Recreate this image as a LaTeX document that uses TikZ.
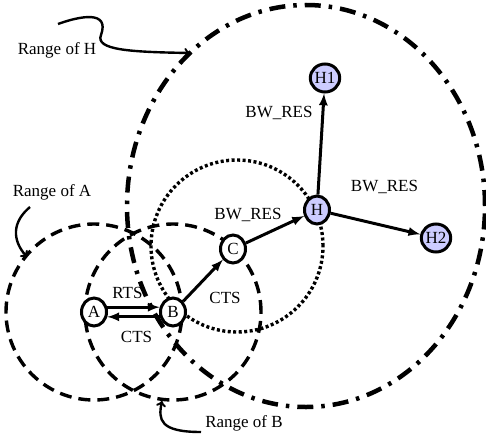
\documentclass[tikz,border=0pt]{standalone}
\usepackage{fontspec}
\setmainfont{Liberation Serif}
\usetikzlibrary{calc}
\usetikzlibrary{positioning}
\usetikzlibrary{backgrounds}
\usetikzlibrary{shapes.geometric}
\definecolor{hotblue}{RGB}{204,204,255}
\tikzstyle{stanode} = [draw, ellipse, line width=3pt, fill=white, inner sep=0pt, minimum width=25pt, minimum height=28pt]
\tikzstyle{colorHot} = [fill=hotblue]
\tikzstyle{msg} = [line width=3pt, -latex]
\tikzstyle{pointer} = [line width=2.4pt, ->]
\tikzstyle{rangeA} = [line width=3.4pt, dash pattern=on 12pt off 7pt]
\tikzstyle{rangeC} = [line width=3.4pt, dash pattern=on 3pt off 2.5pt]
\tikzstyle{rangeH} = [line width=4.5pt, dash pattern=on 16pt off 8pt on 3.5pt off 8pt]

\begin{document}
\begin{tikzpicture}[x=1pt, y=-1pt, every node/.style={font=\fontsize{17}{19}\selectfont}]
\useasboundingbox (0,0) rectangle (486,436);

\node[stanode] (A) at (94,312) {A};
\node[stanode] (B) at (173,312) {B};
\node[stanode] (C) at (233,249) {C};
\node[stanode, colorHot] (H) at (317,210) {H};
\node[stanode, colorHot] (H1) at (325,78) {H1};
\node[stanode, colorHot] (H2) at (436,238) {H2};

\begin{scope}[on background layer]
    \draw[rangeA] (A) circle [radius=88pt];
    \draw[rangeA] (B) circle [radius=88pt];
    \draw[rangeC] ($(C)+(4,-3)$) circle [radius=86pt];
    \draw[rangeH] ($(H)+(-11,-4)$) ellipse [x radius=179pt, y radius=201pt];
\end{scope}

\draw[msg] (A.20) -- (B.160);
\draw[msg] (B.-160) -- (A.-20);
\draw[msg] (B) -- (C);
\draw[msg] (C) -- (H);
\draw[msg] (H) -- (H1);
\draw[msg] (H) -- (H2);

\node (rts) at ($(A)!0.5!(B)+(-6,-19)$) {RTS};
\node (ctsAB) at ($(A)!0.5!(B)+(3,25)$) {CTS};
\node (ctsBC) at ($(B)!0.5!(C)+(22,17)$) {CTS};
\node (bwCH) at ($(C)!0.5!(H)+(-27,-15)$) {BW\_RES};
\node (bwH1) at ($(H)!0.5!(H1)+(-42,-31)$) {BW\_RES};
\node (bwH2) at ($(H)!0.5!(H2)+(8,-37)$) {BW\_RES};

% range labels
\node (lblH) at (57,50) {Range of H};
\node (lblA) at (52,192) {Range of A};
\node (lblB) at (244,423) {Range of B};
\coordinate (tailH) at (58,24);
\coordinate (tipH) at (190,53);
\coordinate (tailA) at (30,207);
\coordinate (tipA) at (27,257);
\coordinate (tailB) at (201,432);
\coordinate (tipB) at (162,401);
\draw[pointer] (tailH) .. controls (80,16) and (110,10) .. (101,35) .. controls (95,50) and (130,52) .. (tipH);
\draw[pointer] (tailA) .. controls (12,222) and (12,240) .. (tipA);
\draw[pointer] (tailB) .. controls (160,432) and (158,420) .. (tipB);
\end{tikzpicture}
\end{document}
